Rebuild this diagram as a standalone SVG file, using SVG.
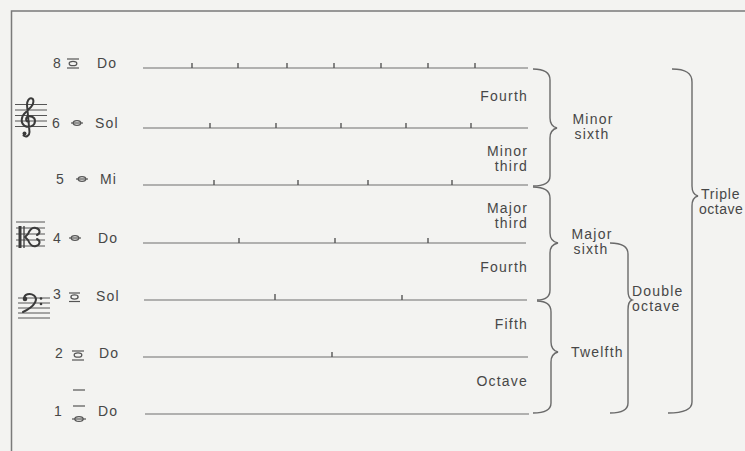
<svg xmlns="http://www.w3.org/2000/svg" width="745" height="451" viewBox="0 0 745 451">
<style>
.bg{fill:#f3f3f1}
.frame{stroke:#7a7a7a;stroke-width:1.5;fill:none}
.str{stroke:#6e6e6e;stroke-width:1.2;fill:none}
.tick{stroke:#555;stroke-width:1.4}
.br{stroke:#6a6a6a;stroke-width:1.4;fill:none}
.t{font-family:"Liberation Sans",Arial,sans-serif;font-size:14px;fill:#474747;letter-spacing:1.2px}
.e{text-anchor:end}
.m{text-anchor:middle}
.led{stroke:#555;stroke-width:1.2}
.note{fill:none;stroke:#555;stroke-width:1.3}
.staff{stroke:#555;stroke-width:1}
.clef{fill:none;stroke:#3a3a3a;stroke-width:2;stroke-linecap:round}
</style>
<rect class="bg" x="0" y="0" width="745" height="451"/>
<path class="frame" d="M11.5,451 L11.5,11 L745,11"/>

<g id="connectors">
  <line class="str" x1="143" y1="68" x2="528" y2="68"/>
  <line class="str" x1="143" y1="128" x2="528" y2="128"/>
  <line class="str" x1="143" y1="185" x2="528" y2="185"/>
  <line class="str" x1="143" y1="243" x2="526" y2="243"/>
  <line class="str" x1="144" y1="300" x2="527" y2="300"/>
  <line class="str" x1="143" y1="357" x2="528" y2="357"/>
  <line class="str" x1="145" y1="414" x2="529" y2="414"/>
  <g class="tick">
    <line x1="192" y1="68" x2="192" y2="63"/>
    <line x1="238" y1="68" x2="238" y2="63"/>
    <line x1="287" y1="68" x2="287" y2="63"/>
    <line x1="334" y1="68" x2="334" y2="63"/>
    <line x1="381" y1="68" x2="381" y2="63"/>
    <line x1="428" y1="68" x2="428" y2="63"/>
    <line x1="475" y1="68" x2="475" y2="63"/>

    <line x1="210" y1="128" x2="210" y2="123"/>
    <line x1="276" y1="128" x2="276" y2="123"/>
    <line x1="341" y1="128" x2="341" y2="123"/>
    <line x1="406" y1="128" x2="406" y2="123"/>
    <line x1="471" y1="128" x2="471" y2="123"/>

    <line x1="214" y1="185" x2="214" y2="180"/>
    <line x1="298" y1="185" x2="298" y2="180"/>
    <line x1="368" y1="185" x2="368" y2="180"/>
    <line x1="452" y1="185" x2="452" y2="180"/>

    <line x1="239" y1="243" x2="239" y2="238"/>
    <line x1="335" y1="243" x2="335" y2="238"/>
    <line x1="428" y1="243" x2="428" y2="238"/>

    <line x1="275" y1="300" x2="275" y2="294"/>
    <line x1="402" y1="300" x2="402" y2="295"/>

    <line x1="332" y1="357" x2="332" y2="352"/>
  </g>
  <path class="br" d="M533,69 C544,69 550,72 550,80 L550,118 C550,124 553,127 557,128 C553,129 550,132 550,138 L550,176 C550,183 544,186 533,186"/>
  <path class="br" d="M533,187 C544,187 550,190 550,198 L550,233 C550,239 553,242 558,243 C553,244 550,247 550,253 L550,290 C550,297 545,300 537,300"/>
  <path class="br" d="M537,301 C545,301 551,304 551,312 L551,342 C551,348 554,351 558,352 C554,353 551,356 551,362 L551,403 C551,410 545,413 533,413"/>
  <path class="br" d="M610,243 C622,243 628,246 628,254 L628,290 C628,296 629,299 632,300 C629,301 628,304 628,310 L628,403 C628,410 622,413 610,413"/>
  <path class="br" d="M672,69 C686,69 692,73 692,82 L692,186 C692,192 694,195 698,196 C694,197 692,200 692,206 L692,402 C692,409 686,413 668,413"/>
</g>

<g id="treble-clef">
  <g class="staff">
    <line x1="15" y1="104.5" x2="47" y2="104.5"/>
    <line x1="15" y1="110" x2="47" y2="110"/>
    <line x1="15" y1="115.5" x2="47" y2="115.5"/>
    <line x1="15" y1="121" x2="47" y2="121"/>
    <line x1="15" y1="126.5" x2="47" y2="126.5"/>
  </g>
  <path class="clef" d="M29,122 C26,122 25,119 27,117 C30,115 35,117 35,121 C35,126 29,128 25,126 C20,123 21,116 26,112 L31,107 C34,104 34,99 32,98.5 C29,97.5 27,101 27,105 L29.5,132 C29.5,136 26,137.5 23.5,135.5"/>
  <circle cx="24.5" cy="133.5" r="2" fill="#3a3a3a"/>
</g>
<g id="alto-clef">
  <g class="staff">
    <line x1="16" y1="222" x2="45" y2="222"/>
    <line x1="16" y1="228" x2="45" y2="228"/>
    <line x1="16" y1="234" x2="45" y2="234"/>
    <line x1="16" y1="240" x2="45" y2="240"/>
    <line x1="16" y1="246" x2="45" y2="246"/>
  </g>
  <line x1="20" y1="226" x2="20" y2="248" stroke="#3a3a3a" stroke-width="3"/>
  <line x1="24" y1="226" x2="24" y2="248" stroke="#3a3a3a" stroke-width="1.3"/>
  <path class="clef" d="M25,237 L28,234 C30,229 33,227 36,228 C40,229 41,233 37,235 M25,237 L28,240 C30,245 33,247 36,246 C40,245 41,241 37,239"/>
</g>
<g id="bass-clef">
  <g class="staff">
    <line x1="18" y1="298" x2="50" y2="298"/>
    <line x1="18" y1="303" x2="50" y2="303"/>
    <line x1="18" y1="308" x2="50" y2="308"/>
    <line x1="18" y1="313" x2="50" y2="313"/>
    <line x1="18" y1="318" x2="50" y2="318"/>
  </g>
  <path class="clef" d="M24,299 C24,294 30,292.5 34,295.5 C38,299 36,306 23,312"/>
  <circle cx="25" cy="299" r="2.3" fill="#3a3a3a"/>
  <circle cx="41" cy="298.5" r="1.3" fill="#3a3a3a"/>
  <circle cx="41" cy="304" r="1.3" fill="#3a3a3a"/>
</g>

<g id="note-8">
  <text class="t" x="53" y="68">8</text>
  <line class="led" x1="67" y1="59" x2="79" y2="59"/>
  <ellipse class="note" cx="73" cy="63.5" rx="3.8" ry="2.2"/>
  <line class="led" x1="67" y1="68" x2="79" y2="68"/>
  <text class="t" x="97" y="68">Do</text>
</g>
<g id="note-6">
  <text class="t" x="52" y="128">6</text>
  <line class="led" x1="71" y1="123" x2="83" y2="123"/>
  <ellipse class="note" cx="77" cy="123" rx="3.8" ry="2.3"/>
  <text class="t" x="95" y="128">Sol</text>
</g>
<g id="note-5">
  <text class="t" x="56" y="184">5</text>
  <line class="led" x1="76" y1="179" x2="88" y2="179"/>
  <ellipse class="note" cx="82" cy="179" rx="3.8" ry="2.3"/>
  <text class="t" x="100" y="184">Mi</text>
</g>
<g id="note-4">
  <text class="t" x="53" y="243">4</text>
  <line class="led" x1="69" y1="238" x2="81" y2="238"/>
  <ellipse class="note" cx="75" cy="238" rx="3.8" ry="2.3"/>
  <text class="t" x="98" y="243">Do</text>
</g>
<g id="note-3">
  <text class="t" x="53" y="299">3</text>
  <line class="led" x1="69" y1="293" x2="80" y2="293"/>
  <ellipse class="note" cx="74.5" cy="297" rx="3.6" ry="2.1"/>
  <line class="led" x1="69" y1="301.5" x2="80" y2="301.5"/>
  <text class="t" x="96" y="301">Sol</text>
</g>
<g id="note-2">
  <text class="t" x="55" y="358">2</text>
  <line class="led" x1="72" y1="351" x2="84" y2="351"/>
  <ellipse class="note" cx="78" cy="355" rx="3.8" ry="2.2"/>
  <line class="led" x1="72" y1="360" x2="84" y2="360"/>
  <text class="t" x="99" y="358">Do</text>
</g>
<g id="note-1">
  <text class="t" x="54" y="416">1</text>
  <line class="led" x1="73" y1="390" x2="85" y2="390"/>
  <line class="led" x1="73" y1="406" x2="85" y2="406"/>
  <line class="led" x1="72" y1="419" x2="86" y2="419"/>
  <ellipse class="note" cx="79" cy="419" rx="4.2" ry="2.4"/>
  <text class="t" x="98" y="416">Do</text>
</g>

<g id="fourth-1"><text class="t e" x="528" y="101">Fourth</text></g>
<g id="minor-third"><text class="t e" x="528" y="156">Minor</text><text class="t e" x="528" y="171">third</text></g>
<g id="major-third"><text class="t e" x="528" y="213">Major</text><text class="t e" x="528" y="228">third</text></g>
<g id="fourth-2"><text class="t e" x="528" y="272">Fourth</text></g>
<g id="fifth"><text class="t e" x="528" y="329">Fifth</text></g>
<g id="octave"><text class="t e" x="528" y="386">Octave</text></g>
<g id="minor-sixth"><text class="t m" x="593" y="124">Minor</text><text class="t m" x="592" y="139">sixth</text></g>
<g id="major-sixth"><text class="t m" x="592" y="239">Major</text><text class="t m" x="591" y="254">sixth</text></g>
<g id="twelfth"><text class="t" x="571" y="357">Twelfth</text></g>
<g id="double-octave"><text class="t" x="632" y="296">Double</text><text class="t" x="632" y="311">octave</text></g>
<g id="triple-octave"><text class="t" x="701" y="199" style="letter-spacing:0.8px">Triple</text><text class="t" x="699" y="214" style="letter-spacing:0.5px">octave</text></g>
</svg>
